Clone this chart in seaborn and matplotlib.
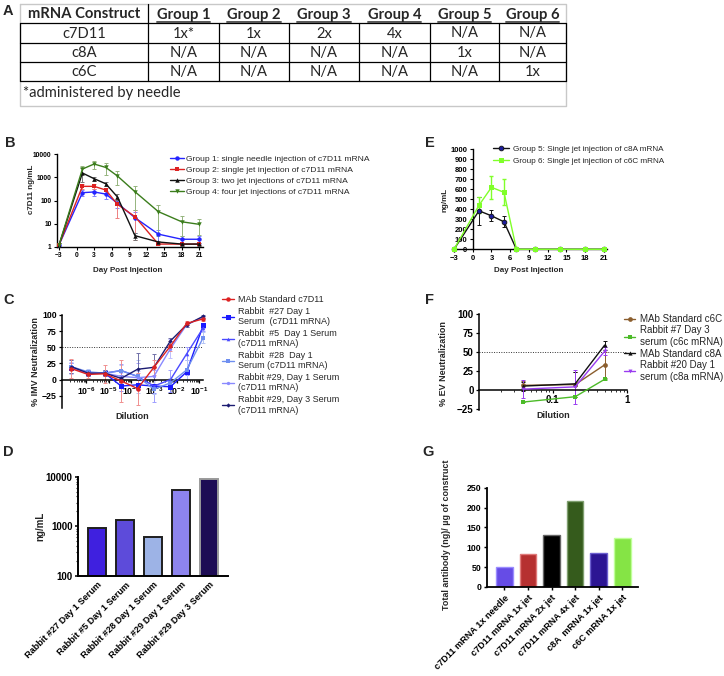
import matplotlib
matplotlib.use("Agg")
import numpy as np
import matplotlib.pyplot as plt
import matplotlib.ticker as mticker
import seaborn as sns

W, H = 724, 676

# ---------------- A: tabela de grupos ----------------
tab_cabecalho = ["mRNA Construct", "Group 1", "Group 2", "Group 3", "Group 4", "Group 5", "Group 6"]
tab_linhas = [
    ["c7D11", "1x*", "1x", "2x", "4x", "N/A", "N/A"],
    ["c8A", "N/A", "N/A", "N/A", "N/A", "1x", "N/A"],
    ["c6C", "N/A", "N/A", "N/A", "N/A", "N/A", "1x"],
]
tab_nota = "*administered by needle"

# ---------------- B: c7D11 no soro ----------------
dias = [-3, 1, 3, 5, 7, 10, 14, 18, 21]
g1_media = [1.2, 218, 234, 190, 76, 18, 3.5, 2.1, 2.1]
g1_dp = [0.2, 60, 70, 70, 30, 14, 2.0, 0.8, 0.8]
g2_media = [1.2, 410, 410, 285, 68, 20, 1.3, 1.3, 1.3]
g2_dp = [0.2, 100, 110, 80, 50, 18, 0.1, 0.1, 0.1]
g3_media = [1.2, 1550, 880, 530, 142, 3.0, 1.6, 1.3, 1.3]
g3_dp = [0.2, 900, 200, 100, 40, 1.0, 0.2, 0.1, 0.1]
g4_media = [1.2, 2300, 3800, 2700, 1150, 240, 33, 12, 9.3]
g4_dp = [0.2, 900, 1500, 1400, 700, 200, 30, 9, 6]
rot_b = ["Group 1: single needle injection of c7D11 mRNA",
         "Group 2: single jet injection of c7D11 mRNA",
         "Group 3: two jet injections of c7D11 mRNA",
         "Group 4: four jet injections of c7D11 mRNA"]

# ---------------- C: neutralizacao IMV ----------------
diluicao_c = [2.3e-7, 1.25e-6, 6.8e-6, 3.6e-5, 1.9e-4, 1.0e-3, 5.4e-3, 2.8e-2, 0.15]
mab_c7d11 = [17, 8, 9, -2, -14, 19, 52, 87, 94]
mab_c7d11_dp = [15, 6, 14, 32, 25, 12, 8, 3, 3]
r27_d1 = [18, 10, 10, -10, -8, -10, -11, 12, 84]
r27_d1_dp = [8, 5, 5, 8, 8, 10, 8, 5, 4]
r5_d1 = [18, 10, 10, 14, 5, -10, 0, 40, 80]
r5_d1_dp = [8, 5, 5, 10, 20, 25, 15, 10, 5]
r28_d1 = [20, 12, 10, 14, 5, -15, -5, 15, 65]
r28_d1_dp = [10, 5, 5, 8, 25, 8, 8, 15, 8]
r29_d1 = [18, 10, 10, 5, 3, 5, 48, 85, 97]
r29_d1_dp = [10, 5, 5, 10, 10, 15, 15, 3, 2]
r29_d3 = [20, 10, 10, 2, 16, 19, 60, 85, 98]
r29_d3_dp = [10, 5, 5, 5, 25, 20, 5, 3, 2]
rot_c = ["MAb Standard c7D11",
         "Rabbit  #27 Day 1\nSerum  (c7D11 mRNA)",
         "Rabbit  #5  Day 1 Serum\n(c7D11 mRNA)",
         "Rabbit  #28  Day 1\nSerum (c7D11 mRNA)",
         "Rabbit #29, Day 1 Serum\n(c7D11 mRNA)",
         "Rabbit #29, Day 3 Serum\n(c7D11 mRNA)"]

# ---------------- D: anticorpo por coelho ----------------
coelhos = ["Rabbit #27 Day 1 Serum", "Rabbit #5 Day 1 Serum", "Rabbit #28 Day 1 Serum",
           "Rabbit #29 Day 1 Serum", "Rabbit #29 Day 3 Serum"]
coelhos_ngml = [930, 1320, 620, 5500, 8900]
cores_d = ["#2a00ff", "#4b33f2", "#91aef2", "#7f73ff", "#170060"]

# ---------------- E: c8A / c6C ----------------
g5_media = [0, 385, 335, 275, 0, 0, 0, 0, 0]
g5_dp = [0, 140, 55, 55, 0, 0, 0, 0, 0]
g6_media = [0, 440, 620, 570, 0, 0, 0, 0, 0]
g6_dp = [0, 80, 115, 130, 0, 0, 0, 0, 0]
rot_e = ["Group 5: Single jet injection of c8A mRNA",
         "Group 6: Single jet injection of c6C mRNA"]

# ---------------- F: neutralizacao EV ----------------
diluicao_f = [0.04, 0.2, 0.5]
mab_c6c = [6, 7, 33]
mab_c6c_dp = [6, 17, 17]
r7_d3 = [-16, -9, 14]
r7_d3_dp = [0, 0, 1]
mab_c8a = [5, 8, 59]
mab_c8a_dp = [6, 15, 6]
r20_d1 = [1, 4, 51]
r20_d1_dp = [12, 22, 5]
rot_f = ["MAb Standard c6C", "Rabbit #7 Day 3\nserum (c6c mRNA)",
         "MAb Standard c8A", "Rabbit #20 Day 1\nserum (c8a mRNA)"]

# ---------------- G: anticorpo total por construcao ----------------
construcoes = ["c7D11 mRNA 1x needle", "c7D11 mRNA 1x jet", "c7D11 mRNA 2x jet",
               "c7D11 mRNA 4x jet", "c8A  mRNA 1x jet", "c6C mRNA 1x jet"]
total_ng_por_ug = [51, 82, 131, 217, 85, 123]
cores_g = ["#5533ff", "#cc1a1a", "#000000", "#336611", "#1f00a8", "#80ff2a"]
bordas_g = ["#9a8cff", "#e07a7a", "#666666", "#7f9f6f", "#6c5fd0", "#c0ff99"]


def novo_eixo(fig, caixa):
    """Cria um eixo a partir de uma caixa em pixels (esq, topo, dir, base)."""
    l, t, r, b = caixa
    return fig.add_axes([l / W, 1 - b / H, (r - l) / W, (b - t) / H])


def estilo_prism(ax, lw, tam):
    """Visual tipo GraphPad: so eixos esquerdo e inferior, ticks para fora."""
    for lado in ["top", "right"]:
        ax.spines[lado].set_visible(False)
    for lado in ["left", "bottom"]:
        ax.spines[lado].set_linewidth(lw)
        ax.spines[lado].set_color("black")
    ax.tick_params(which="major", direction="out", length=2.5, width=lw * 0.8,
                   labelsize=tam, pad=1.5, colors="black")
    ax.tick_params(which="minor", direction="out", length=1.4, width=lw * 0.6)


def rotulo(ax, caixa, eixo, texto, cx, cy, tam):
    """Coloca o rotulo do eixo centrado num ponto em pixels."""
    l, t, r, b = caixa
    pos = ((cx - l) / (r - l), (b - cy) / (b - t))
    if eixo == "x":
        ax.set_xlabel(texto, fontsize=tam, fontweight="bold")
        ax.xaxis.set_label_coords(*pos)
        ax.xaxis.label.set_va("center")
    else:
        ax.set_ylabel(texto, fontsize=tam, fontweight="bold")
        ax.yaxis.set_label_coords(*pos)
        ax.yaxis.label.set_va("center")


def legenda(ax, fig, handles, rotulos, x, y, tam, **kw):
    ax.legend(handles, rotulos, loc="upper left", bbox_to_anchor=(x / W, 1 - y / H),
              bbox_transform=fig.transFigure, frameon=False, borderpad=0,
              borderaxespad=0, prop={"size": tam, "weight": "normal"}, **kw)


def linha(ax, x, y, dp, cor, cor_err, mk, ms, lw_err=0.7, cap=1.6, **kw):
    """Linha com marcadores (seaborn) e barras de erro; devolve a linha."""
    sns.lineplot(x=x, y=y, ax=ax, color=cor, marker=mk, markersize=ms,
                 markeredgewidth=kw.pop("mew", 0), lw=1.0,
                 clip_on=False, zorder=3, **kw)
    ln = ax.get_lines()[-1]
    ax.errorbar(x, y, yerr=dp, fmt="none", ecolor=cor_err, elinewidth=lw_err,
                capsize=cap, capthick=lw_err, zorder=2, clip_on=False)
    return ln


pot10 = mticker.FuncFormatter(lambda v, p: r"$\mathbf{10^{%d}}$" % round(np.log10(v)))
simples = mticker.FuncFormatter(lambda v, p: f"{v:g}")


def desenhar_tabela(fig):
    ax = fig.add_axes([0, 1 - 115 / H, 1, 115 / H])
    ax.set_xlim(0, W)
    ax.set_ylim(115, 0)
    ax.axis("off")
    xs = [20, 148, 219, 289, 359, 430, 499, 566]
    ys = [4, 23, 43, 62, 81, 106]
    cinza = "#c8c8c8"
    ax.plot([xs[0], xs[-1], xs[-1], xs[0], xs[0]], [ys[0], ys[0], ys[-1], ys[-1], ys[0]],
            color=cinza, lw=1)
    for y in ys[1:5]:
        ax.plot([xs[0], xs[-1]], [y, y], color="black", lw=0.9)
    for x in xs:
        ax.plot([x, x], [ys[1], ys[4]], color="black", lw=0.9)
    ax.plot([xs[1], xs[1]], [ys[0], ys[1]], color="black", lw=0.9)
    fonte = ["Lato", "DejaVu Sans"]
    renderer = fig.canvas.get_renderer()
    for i, txt in enumerate(tab_cabecalho):
        cx = (xs[i] + xs[i + 1]) / 2
        t = ax.text(cx, (ys[0] + ys[1]) / 2 + 1, txt, ha="center", va="center",
                    fontsize=10.6, fontweight="bold", family=fonte)
        if i > 0:
            bb = t.get_window_extent(renderer)
            (x0, _), (x1, _) = ax.transData.inverted().transform([[bb.x0, bb.y0], [bb.x1, bb.y0]])
            ax.plot([x0, x1], [ys[1] - 1.2, ys[1] - 1.2], color="#555555", lw=1.4)
    for j, lin in enumerate(tab_linhas):
        for i, txt in enumerate(lin):
            cx = (xs[i] + xs[i + 1]) / 2
            ax.text(cx, (ys[j + 1] + ys[j + 2]) / 2 + 0.5, txt, ha="center", va="center",
                    fontsize=10.6, fontweight="normal", family=fonte)
    ax.text(xs[0] + 3, (ys[4] + ys[5]) / 2, tab_nota, ha="left", va="center",
            fontsize=10.6, fontweight="normal", family=fonte)


def painel_b(fig):
    cx = (57.3, 154.3, 203.3, 246.7)
    ax = novo_eixo(fig, cx)
    hs = [
        linha(ax, dias, g1_media, np.minimum(g1_dp, np.array(g1_media) * 0.99), "#2424ff", "#8080ff", "o", 3.2),
        linha(ax, dias, g2_media, np.minimum(g2_dp, np.array(g2_media) * 0.99), "#dd2222", "#ee8080", "s", 3.0),
        linha(ax, dias, g3_media, np.minimum(g3_dp, np.array(g3_media) * 0.99), "#111111", "#777777", "^", 3.2),
        linha(ax, dias, g4_media, np.minimum(g4_dp, np.array(g4_media) * 0.99), "#3b7d1c", "#95b47d", "v", 3.2),
    ]
    ax.set_yscale("log")
    ax.set_ylim(1, 10000)
    ax.set_xlim(-3.3, 21.7)
    ax.set_xticks(range(-3, 22, 3))
    ax.yaxis.set_major_locator(mticker.FixedLocator([1, 10, 100, 1000, 10000]))
    ax.yaxis.set_major_formatter(simples)
    ax.yaxis.set_minor_locator(mticker.NullLocator())
    estilo_prism(ax, 1.0, 4.8)
    rotulo(ax, cx, "x", "Day Post Injection", 128, 270, 5.8)
    rotulo(ax, cx, "y", "c7D11 ng/mL", 31.7, 189, 5.8)
    legenda(ax, fig, hs, rot_b, 170, 155, 6.1, handlelength=1.6, handletextpad=0.3, labelspacing=0.36)


def painel_c(fig):
    cx = (62.3, 315, 203.3, 408.3)
    ax = novo_eixo(fig, cx)
    h27 = linha(ax, diluicao_c, r27_d1, r27_d1_dp, "#1a1aff", "#8c8cff", "s", 3.6)
    h5 = linha(ax, diluicao_c, r5_d1, r5_d1_dp, "#4a4aff", "#a0a0ff", "^", 2.6)
    h28 = linha(ax, diluicao_c, r28_d1, r28_d1_dp, "#6f8ff0", "#b5c5f5", "s", 2.4)
    h29a = linha(ax, diluicao_c, r29_d1, r29_d1_dp, "#8a8aff", "#c0c0ff", "o", 2.4)
    h29b = linha(ax, diluicao_c, r29_d3, r29_d3_dp, "#1c1c72", "#7070a8", "D", 2.2)
    hmab = linha(ax, diluicao_c, mab_c7d11, mab_c7d11_dp, "#dd2222", "#f09090", "o", 3.2)
    ax.set_xscale("log")
    ax.set_xlim(10 ** -7.04, 10 ** -0.82)
    ax.set_ylim(-44.4, 100)
    ax.axhline(50, ls=(0, (1, 1.5)), color="#333333", lw=0.7, zorder=1)
    ax.spines["bottom"].set_position(("data", 0))
    ax.xaxis.set_major_locator(mticker.FixedLocator([10.0 ** k for k in range(-6, 0)]))
    ax.xaxis.set_major_formatter(pot10)
    ax.xaxis.set_minor_locator(mticker.LogLocator(base=10, subs=np.arange(2, 10), numticks=20))
    ax.xaxis.set_minor_formatter(mticker.NullFormatter())
    ax.set_yticks([-25, 0, 25, 50, 75, 100])
    estilo_prism(ax, 1.1, 6.3)
    rotulo(ax, cx, "x", "Dilution", 132, 416.7, 6.5)
    rotulo(ax, cx, "y", "% IMV Neutralization", 35, 361.7, 6.5)
    legenda(ax, fig, [hmab, h27, h5, h28, h29a, h29b], rot_c, 222, 295, 6.5,
            handlelength=1.3, handletextpad=0.45, labelspacing=0.3)


def painel_d(fig):
    cx = (78.3, 476.7, 228.3, 576)
    ax = novo_eixo(fig, cx)
    sns.barplot(x=coelhos, y=coelhos_ngml, hue=coelhos, palette=cores_d, legend=False,
                ax=ax, width=0.65, edgecolor="#1e1e1e", linewidth=1.4)
    ax.patches[-1].set_edgecolor("#9a9a9a")
    ax.set_yscale("log")
    ax.set_ylim(100, 10000)
    ax.set_xlim(-0.68, 4.68)
    ax.yaxis.set_major_locator(mticker.FixedLocator([100, 1000, 10000]))
    ax.yaxis.set_major_formatter(simples)
    ax.set_xticks(range(len(coelhos)))
    ax.set_xticklabels(coelhos, rotation=45, ha="right", rotation_mode="anchor", fontsize=6.6)
    estilo_prism(ax, 1.4, 7)
    ax.tick_params(axis="x", length=0, pad=3)
    ax.tick_params(axis="x", labelsize=6.6)
    rotulo(ax, cx, "y", "ng/mL", 40, 526.7, 7)


def painel_e(fig):
    cx = (454, 149.3, 607, 249.3)
    ax = novo_eixo(fig, cx)
    hs = [
        linha(ax, dias, g5_media, g5_dp, "#111111", "#111111", "o", 3.4,
              markerfacecolor="#1d1d9c", markeredgecolor="#111111", mew=0.6),
        linha(ax, dias, g6_media, g6_dp, "#80ff2a", "#80ff2a", "s", 3.6, lw_err=1.0),
    ]
    ax.set_xlim(-3, 21.5)
    ax.set_ylim(0, 1000)
    ax.spines["left"].set_position(("data", 0))
    ax.set_xticks(range(-3, 22, 3))
    ax.set_yticks(range(0, 1001, 100))
    estilo_prism(ax, 1.0, 5.5)
    rotulo(ax, cx, "x", "Day Post Injection", 529, 270, 5.8)
    rotulo(ax, cx, "y", "ng/mL", 445, 200, 5.8)
    legenda(ax, fig, hs, rot_e, 493, 145.5, 5.9, handlelength=2.0, handletextpad=0.4, labelspacing=0.5)


def painel_f(fig):
    cx = (479.3, 314, 627, 410)
    ax = novo_eixo(fig, cx)
    hs = [
        linha(ax, diluicao_f, mab_c6c, mab_c6c_dp, "#8b5e2e", "#8b5e2e", "o", 3.4),
        linha(ax, diluicao_f, r7_d3, r7_d3_dp, "#4cbb28", "#4cbb28", "s", 3.2),
        linha(ax, diluicao_f, mab_c8a, mab_c8a_dp, "#111111", "#111111", "^", 3.0),
        linha(ax, diluicao_f, r20_d1, r20_d1_dp, "#9a3cf0", "#9a3cf0", "v", 2.8),
    ]
    ax.set_xscale("log")
    ax.set_xlim(0.0102, 1.0)
    ax.set_ylim(-26.5, 100)
    ax.axhline(50, ls=(0, (1, 1.5)), color="#333333", lw=0.7, zorder=1)
    ax.spines["bottom"].set_position(("data", 0))
    ax.xaxis.set_major_locator(mticker.FixedLocator([0.1, 1]))
    ax.xaxis.set_major_formatter(simples)
    ax.xaxis.set_minor_locator(mticker.LogLocator(base=10, subs=np.arange(2, 10), numticks=20))
    ax.xaxis.set_minor_formatter(mticker.NullFormatter())
    ax.set_yticks([-25, 0, 25, 50, 75, 100])
    estilo_prism(ax, 1.1, 7)
    rotulo(ax, cx, "x", "Dilution", 552.7, 415, 6.5)
    rotulo(ax, cx, "y", "% EV Neutralization", 443.3, 363.3, 6.5)
    legenda(ax, fig, hs, rot_f, 624, 314, 7, handlelength=1.15, handletextpad=0.5, labelspacing=0.15)


def painel_g(fig):
    cx = (486.7, 487.7, 638.3, 587)
    ax = novo_eixo(fig, cx)
    sns.barplot(x=construcoes, y=total_ng_por_ug, hue=construcoes, palette=cores_g,
                legend=False, ax=ax, width=0.7, linewidth=1.0)
    for barra, borda in zip(ax.patches, bordas_g):
        barra.set_edgecolor(borda)
    ax.set_ylim(0, 250)
    ax.set_xlim(-0.75, 5.68)
    ax.set_yticks(range(0, 251, 50))
    ax.set_xticks(range(len(construcoes)))
    ax.set_xticklabels(construcoes, rotation=45, ha="right", rotation_mode="anchor")
    estilo_prism(ax, 1.3, 6.3)
    ax.tick_params(axis="x", labelsize=6.6, pad=2)
    rotulo(ax, cx, "y", "Total antibody (ng)/ µg of construct", 446.7, 535, 6.4)


def letras(fig):
    pos = {"A": (8, 11), "B": (10, 143), "C": (9, 300), "D": (8, 452),
           "E": (430, 143), "F": (429, 300), "G": (428, 452)}
    for letra, (x, y) in pos.items():
        fig.text(x / W, 1 - y / H, letra, fontsize=10.5, fontweight="bold",
                 ha="center", va="center")


if __name__ == "__main__":
    sns.set_theme(style="ticks")
    plt.rcParams["font.family"] = ["Liberation Sans", "DejaVu Sans"]
    plt.rcParams["font.weight"] = "bold"
    plt.rcParams["mathtext.fontset"] = "custom"
    plt.rcParams["mathtext.bf"] = "Liberation Sans:bold"
    plt.rcParams["mathtext.rm"] = "Liberation Sans:bold"
    plt.rcParams["axes.unicode_minus"] = True

    fig = plt.figure(figsize=(W / 100, H / 100), dpi=100)
    fig.patch.set_facecolor("white")
    desenhar_tabela(fig)
    painel_b(fig)
    painel_c(fig)
    painel_d(fig)
    painel_e(fig)
    painel_f(fig)
    painel_g(fig)
    letras(fig)
    fig.savefig("out.png", dpi=100, facecolor="white")
    print("Figura salva: out.png")
